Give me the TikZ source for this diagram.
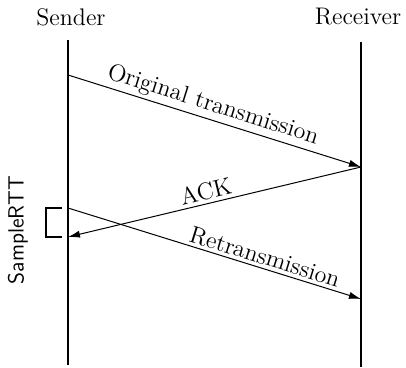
\documentclass[tikz,border=0pt]{standalone}
\usetikzlibrary{arrows.meta}
\begin{document}
\begin{tikzpicture}[x=0.5pt,y=-0.5pt]
		\tikzstyle{life}=[line width=0.6pt]
		\tikzstyle{msg}=[line width=0.5pt,-{Latex[length=6pt,width=3.6pt]}]
		\tikzstyle{lbl}=[font=\large,sloped,above,inner sep=1.5pt]
		\useasboundingbox (0,0) rectangle (406,368);
		\node (sender) at (71,17) {\large Sender};
		\node (receiver) at (358,17) {\large Receiver};
		\coordinate (s0) at (68,40);
		\coordinate (s9) at (68,365);
		\coordinate (r0) at (361,42);
		\coordinate (r9) at (361,367);
		\coordinate (s1) at (68,75);
		\coordinate (r1) at (361,167);
		\coordinate (s2) at (68,208);
		\coordinate (s3) at (68,237);
		\coordinate (r2) at (361,299);
		\coordinate (b1) at (62,208);
		\coordinate (b2) at (46,208);
		\coordinate (b3) at (46,237);
		\coordinate (b4) at (62,237);
		\node[rotate=90,font=\fontsize{11}{13}\selectfont\sffamily] (rtt) at (18,230) {SampleRTT};

		\path[life]
		(s0) edge (s9)
		(r0) edge (r9)
		;
		\draw[msg] (s1) -- node[lbl,pos=0.48] {Original transmission} (r1);
		\draw[msg] (r1) -- node[lbl,pos=0.52] {ACK} (s3);
		\draw[msg] (s2) -- node[lbl,pos=0.66] {Retransmission} (r2);
		\draw[line width=0.6pt] (b1) -- (b2) -- (b3) -- (b4);
		\end{tikzpicture}
\end{document}
